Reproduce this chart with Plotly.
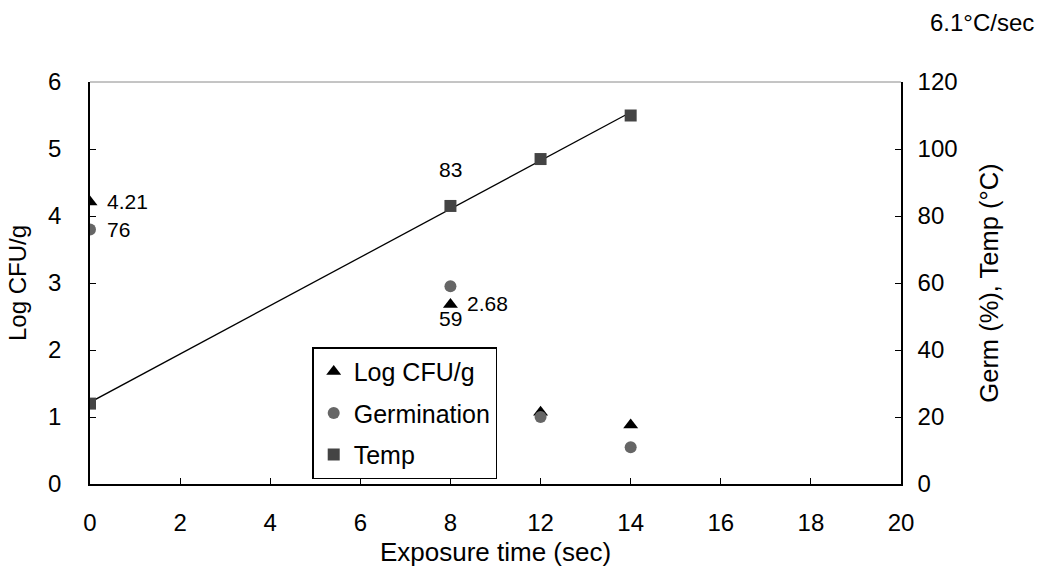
import numpy as np
import plotly.graph_objects as go

# Exposure-time categories (evenly spaced, as on the original category axis)
categories = ["0", "2", "4", "6", "8", "12", "14", "16", "18", "20"]
time_pts = ["0", "8", "12", "14"]

log_cfu = [4.21, 2.68, 1.07, 0.88]       # Log CFU/g
germination = [76, 59, 20, 11]            # Germination (%)
temp = [24, 83, 97, 110]                  # Temperature (°C)

rate_label = "6.1°C/sec"

FONT = "Liberation Sans, Arial, sans-serif"

# Category positions of the sampled times
idx = [categories.index(t) for t in time_pts]

# Linear trend of temperature against category position
slope, intercept = np.polyfit(np.array(idx, dtype=float), np.array(temp, dtype=float), 1)
temp_fit = [slope * i + intercept for i in idx]

fig = go.Figure()

fig.add_trace(go.Scatter(
    x=time_pts, y=log_cfu, mode="markers", name="Log CFU/g", legendgroup="a",
    marker=dict(symbol="triangle-up", size=13, color="black"),
    yaxis="y",
))
fig.add_trace(go.Scatter(
    x=time_pts, y=germination, mode="markers", name="Germination", legendgroup="b",
    marker=dict(symbol="circle", size=12, color="#666666"),
    yaxis="y2",
))
fig.add_trace(go.Scatter(
    x=time_pts, y=temp_fit, mode="lines", showlegend=False,
    line=dict(color="black", width=1.3), hoverinfo="skip",
    yaxis="y2",
))
fig.add_trace(go.Scatter(
    x=time_pts, y=temp, mode="markers", name="Temp", legendgroup="c",
    marker=dict(symbol="square", size=12, color="#444444"),
    yaxis="y2",
))

# Data labels
lab_font = dict(family=FONT, size=21, color="black")
annotations = [
    dict(x=idx[0], y=log_cfu[0], yref="y", text=f"{log_cfu[0]:.2f}",
         xanchor="left", xshift=15, showarrow=False, font=lab_font),
    dict(x=idx[1], y=log_cfu[1], yref="y", text=f"{log_cfu[1]:.2f}",
         xanchor="left", xshift=15, yshift=1, showarrow=False, font=lab_font),
    dict(x=idx[0], y=germination[0], yref="y2", text=f"{germination[0]:g}",
         xanchor="left", xshift=15, showarrow=False, font=lab_font),
    dict(x=idx[1], y=germination[1], yref="y2", text=f"{germination[1]:g}",
         xanchor="center", yshift=-32, showarrow=False, font=lab_font),
    dict(x=idx[1], y=temp[1], yref="y2", text=f"{temp[1]:g}",
         xanchor="center", yshift=36, showarrow=False, font=lab_font),
    dict(x=1.0, xref="paper", xanchor="right", xshift=135,
         y=1.0, yref="paper", yanchor="middle", yshift=60,
         text=rate_label, showarrow=False,
         font=dict(family=FONT, size=24, color="black")),
]

axis_font = dict(family=FONT, size=24, color="black")

fig.update_layout(
    width=1041, height=569,
    margin=dict(l=90, r=140, t=82, b=85),
    paper_bgcolor="white", plot_bgcolor="white",
    font=dict(family=FONT, size=24, color="black"),
    showlegend=True,
    legend=dict(
        x=0.274, y=0.34, xanchor="left", yanchor="top",
        bordercolor="black", borderwidth=1.5, bgcolor="white",
        font=dict(family=FONT, size=25, color="black"),
        itemsizing="trace", tracegroupgap=6,
    ),
    xaxis=dict(
        type="category", categoryorder="array", categoryarray=categories,
        range=[0, len(categories) - 1], automargin=False,
        showline=True, linecolor="black", linewidth=1.5,
        ticks="inside", ticklen=6, tickcolor="black",
        showgrid=False, zeroline=False,
        tickfont=axis_font, ticklabelstandoff=16,
        title=dict(text="Exposure time (sec)", font=dict(family=FONT, size=26, color="black"),
                   standoff=8),
    ),
    yaxis=dict(
        range=[0, 6], dtick=1, automargin=False,
        showline=True, linecolor="black", linewidth=1.5,
        ticks="inside", ticklen=6, tickcolor="black",
        showgrid=False, zeroline=False,
        tickfont=axis_font, ticklabelstandoff=22,
        title=dict(text="Log CFU/g", font=axis_font, standoff=15),
    ),
    yaxis2=dict(
        range=[0, 120], dtick=20, overlaying="y", side="right", automargin=False,
        showline=True, linecolor="black", linewidth=1.5,
        ticks="inside", ticklen=6, tickcolor="black",
        showgrid=False, zeroline=False,
        tickfont=axis_font, ticklabelstandoff=10,
        title=dict(text="Germ (%), Temp (°C)", font=dict(family=FONT, size=25.5, color="black"),
                   standoff=24),
    ),
    annotations=annotations,
    shapes=[dict(type="line", xref="paper", yref="paper", x0=0, x1=1, y0=1, y1=1,
                 line=dict(color="#8a8a8a", width=1))],
)

fig.write_html("out.html")
